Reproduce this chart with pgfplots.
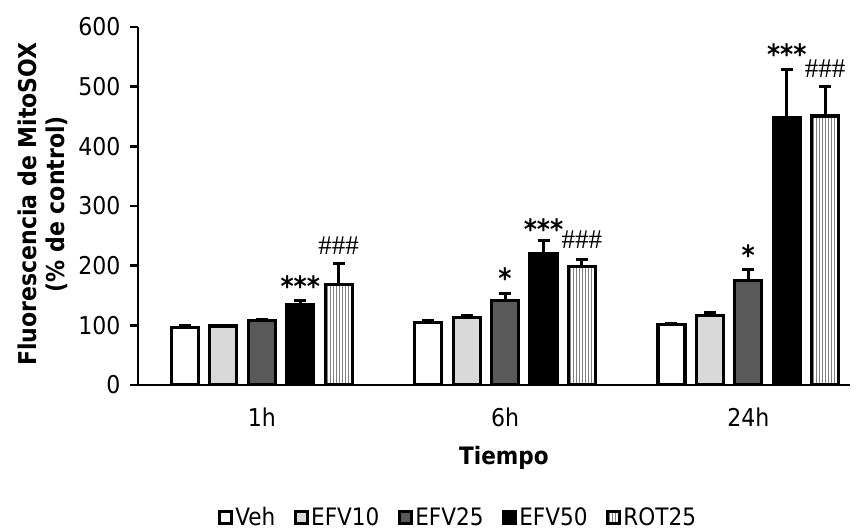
\documentclass[border=0pt]{standalone}
\usepackage{fontspec}
\setmainfont{DejaVu Sans Condensed}[BoldFont={DejaVu Sans Condensed Bold}]
\newfontfamily\hashfont{Liberation Serif}
\usepackage{pgfplots}
\pgfplotsset{compat=1.18}
\usetikzlibrary{patterns}
\definecolor{cA}{HTML}{D9D9D9}
\definecolor{cB}{HTML}{595959}
\pgfplotsset{barsty/.style={draw=black, line width=3.2pt}}
\begin{document}
\begin{tikzpicture}
\useasboundingbox (-138pt,-145pt) rectangle (719pt,385pt);
\begin{axis}[
 at={(0,0)}, anchor=south west,
 scale only axis, width=712pt, height=358pt,
 xmin=-0.509, xmax=2.418, ymin=0, ymax=600,
 ytick={0,100,...,600},
 xtick={0,1,2}, xticklabels={1h,6h,24h},
 axis lines=left, axis line style={-, line width=2.8pt},
 tick align=outside, major tick length=8pt,
 y tick style={line width=2.8pt, black},
 x tick style={draw=none},
 every tick label/.append style={font=\fontsize{24.5}{28}\selectfont},
 /pgf/number format/assume math mode=true,
 xticklabel style={yshift=-11pt},
 yticklabel style={xshift=-6pt},
 xlabel={\textbf{Tiempo}},
 xlabel style={at={(axis description cs:0.514,-0.204)}, anchor=center, font=\fontsize{24}{28}\selectfont},
 ylabel={\textbf{Fluorescencia de MitoSOX}\\\textbf{(\% de control)}},
 ylabel style={at={(axis description cs:-0.1334,0.505)}, anchor=center, align=center, font=\fontsize{24.5}{28}\selectfont},
 ybar, bar width=0.111,
 error bars/error bar style={line width=3pt, black},
 error bars/error mark options={line width=3pt, black, mark size=6pt, rotate=90},
 legend columns=5,
 legend style={draw=none, at={(0.45,-0.369)}, anchor=center, font=\fontsize{24}{28}\selectfont,
   nodes={inner xsep=2.5pt},
   /tikz/every even column/.append style={column sep=16pt}},
 legend image code/.code={\draw[#1, line width=2.8pt] (0pt,-6.5pt) rectangle (12pt,5.5pt);},
]
\addplot[barsty, fill=white, bar shift=-0.316, error bars/.cd, y dir=plus, y explicit]
 coordinates {(0,97) +- (0,2) (1,105) +- (0,3) (2,102) +- (0,1)};
\addplot[barsty, fill=cA, bar shift=-0.158, error bars/.cd, y dir=plus, y explicit]
 coordinates {(0,99) +- (0,1) (1,113) +- (0,3) (2,117) +- (0,4)};
\addplot[barsty, fill=cB, bar shift=0, error bars/.cd, y dir=plus, y explicit]
 coordinates {(0,108) +- (0,1) (1,141) +- (0,12) (2,175) +- (0,18)};
\addplot[barsty, fill=black, bar shift=0.158, error bars/.cd, y dir=plus, y explicit]
 coordinates {(0,134) +- (0,8) (1,220) +- (0,22) (2,448) +- (0,80)};
\addplot[barsty, fill=white, postaction={pattern=vertical lines, pattern color=gray}, bar shift=0.316, error bars/.cd, y dir=plus, y explicit]
 coordinates {(0,169) +- (0,34) (1,198) +- (0,13) (2,451) +- (0,49)};
\legend{Veh,EFV10,EFV25,EFV50,ROT25}
\node[font=\bfseries\fontsize{28}{28}\selectfont] at (axis cs:0.158,165) {***};
\node[font=\bfseries\fontsize{28}{28}\selectfont] at (axis cs:1,179) {*};
\node[font=\bfseries\fontsize{28}{28}\selectfont] at (axis cs:1.158,261) {***};
\node[font=\bfseries\fontsize{28}{28}\selectfont] at (axis cs:2,217) {*};
\node[font=\bfseries\fontsize{28}{28}\selectfont] at (axis cs:2.158,555) {***};
\node[font=\hashfont\fontsize{27}{27}\selectfont] at (axis cs:0.316,234) {\#\#\#};
\node[font=\hashfont\fontsize{27}{27}\selectfont] at (axis cs:1.316,243) {\#\#\#};
\node[font=\hashfont\fontsize{27}{27}\selectfont] at (axis cs:2.316,531) {\#\#\#};
\end{axis}
\end{tikzpicture}
\end{document}
